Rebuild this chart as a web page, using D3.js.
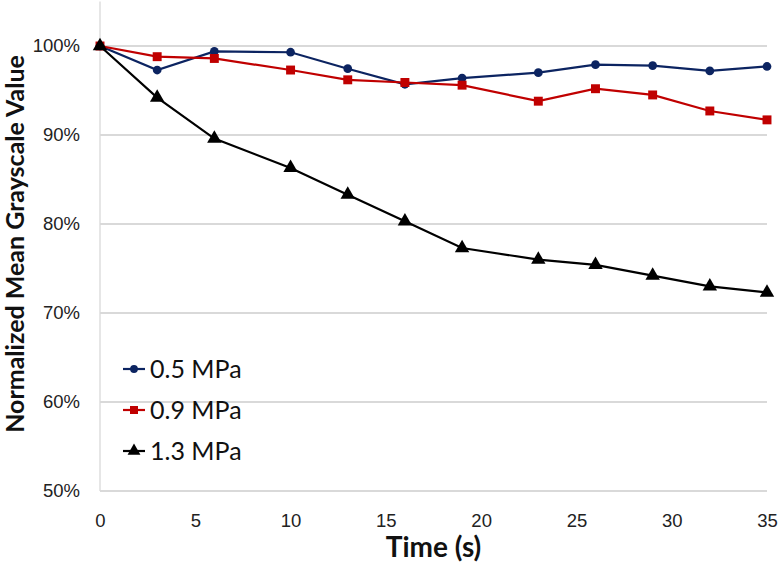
<!DOCTYPE html>
<html lang="en">
<head>
    <meta charset="UTF-8">
    <title>Normalized Mean Grayscale Value</title>
    <script src="https://d3js.org/d3.v7.min.js"></script>
    <style>
        body { margin: 0; background: #fff; }
        svg { font-family: Lato, "Open Sans", sans-serif; }
        .grid line { stroke: #d9d9d9; stroke-width: 1.3; shape-rendering: crispEdges; }
        .tick text { fill: #222; font-size: 18.5px; }
    </style>
</head>
<body>
    <svg id="chart" width="780" height="566"></svg>

    <script>
        // time points (s)
        const times = [0, 3, 6, 10, 13, 16, 19, 23, 26, 29, 32, 35];
        // normalized values in %
        const mpa05 = [100, 97.3, 99.4, 99.3, 97.45, 95.7, 96.4, 97.0, 97.9, 97.8, 97.2, 97.7];
        const mpa09 = [100, 98.8, 98.6, 97.3, 96.2, 95.9, 95.6, 93.8, 95.2, 94.5, 92.7, 91.7];
        const mpa13 = [100, 94.2, 89.6, 86.3, 83.3, 80.3, 77.3, 76.0, 75.4, 74.2, 73.0, 72.3];
        const seriesNames = ["0.5 MPa", "0.9 MPa", "1.3 MPa"];
        const seriesColors = ["#0c2461", "#c00000", "#000000"];
        const seriesShapes = [d3.symbolCircle, d3.symbolSquare, d3.symbolTriangle];
        const xTicks = [0, 5, 10, 15, 20, 25, 30, 35];
        const yTicks = [50, 60, 70, 80, 90, 100];

        const allSeries = [mpa05, mpa09, mpa13];
        const symSizes = [60, 80, 90];

        const svg = d3.select("#chart");
        const x = d3.scaleLinear().domain([0, 35]).range([100, 767]);
        const y = d3.scaleLinear().domain([50, 105]).range([491, 1.5]);

        // horizontal gridlines
        svg.append("g")
            .attr("class", "grid")
            .selectAll("line")
            .data(yTicks)
            .enter()
            .append("line")
            .attr("x1", x(0))
            .attr("x2", x(35))
            .attr("y1", d => y(d))
            .attr("y2", d => y(d));

        // left axis line (light gray)
        svg.append("line")
            .attr("x1", x(0)).attr("x2", x(0))
            .attr("y1", y(105)).attr("y2", y(50))
            .attr("stroke", "#d9d9d9")
            .attr("stroke-width", 1.3);

        const yAxis = svg.append("g")
            .attr("transform", `translate(${x(0) - 17},0)`)
            .call(d3.axisLeft(y).tickValues(yTicks).tickSize(0).tickFormat(d => d + "%"));
        yAxis.select(".domain").remove();

        const xAxis = svg.append("g")
            .attr("transform", `translate(0,${y(50) + 20})`)
            .call(d3.axisBottom(x).tickValues(xTicks).tickSize(0));
        xAxis.select(".domain").remove();

        // axis titles
        svg.append("text")
            .attr("x", x(17.5))
            .attr("y", 557)
            .attr("text-anchor", "middle")
            .attr("font-size", 28)
            .attr("font-weight", "bold")
            .attr("fill", "#111")
            .text("Time (s)");

        svg.append("text")
            .attr("transform", `translate(24,244) rotate(-90)`)
            .attr("text-anchor", "middle")
            .attr("font-size", 25)
            .attr("font-weight", "bold")
            .attr("fill", "#111")
            .text("Normalized Mean Grayscale Value");

        const line = d3.line()
            .x((d, i) => x(times[i]))
            .y(d => y(d));

        allSeries.forEach((vals, s) => {
            const g = svg.append("g");
            g.append("path")
                .datum(vals)
                .attr("d", line)
                .attr("fill", "none")
                .attr("stroke", seriesColors[s])
                .attr("stroke-width", 2.2);
            g.selectAll("path.pt")
                .data(vals)
                .enter()
                .append("path")
                .attr("class", "pt")
                .attr("transform", (d, i) => `translate(${x(times[i])},${y(d)})`)
                .attr("d", d3.symbol().type(seriesShapes[s]).size(symSizes[s]))
                .attr("fill", seriesColors[s]);
        });

        // legend
        const legend = svg.append("g").attr("transform", "translate(123,369)");
        seriesNames.forEach((name, s) => {
            const row = legend.append("g").attr("transform", `translate(0,${s * 41})`);
            row.append("line")
                .attr("x1", 0).attr("x2", 22)
                .attr("stroke", seriesColors[s])
                .attr("stroke-width", 2.2);
            row.append("path")
                .attr("transform", "translate(11,0)")
                .attr("d", d3.symbol().type(seriesShapes[s]).size(symSizes[s] * 0.8))
                .attr("fill", seriesColors[s]);
            row.append("text")
                .attr("x", 27)
                .attr("dy", "0.35em")
                .attr("font-size", 25)
                .attr("fill", "#111")
                .text(name);
        });
    </script>
</body>
</html>
